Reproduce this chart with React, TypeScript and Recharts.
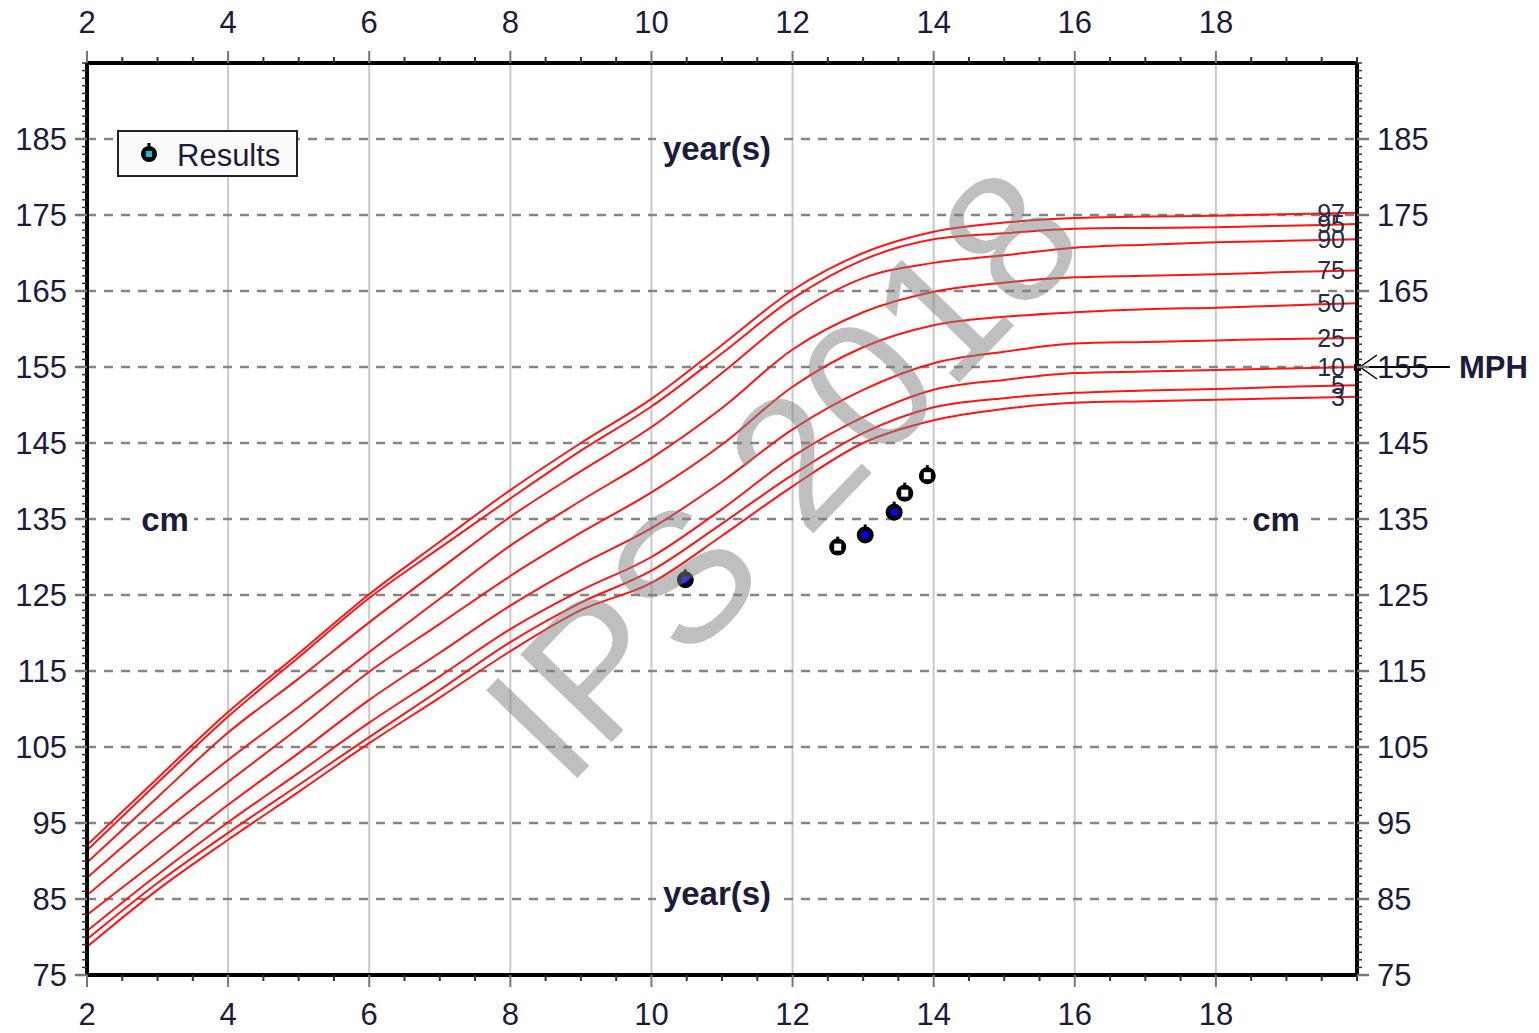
import React from "react";
import { ComposedChart, Line, Scatter, XAxis, YAxis, ReferenceLine, ReferenceDot } from "recharts";

// percentile curves, height in cm by age in years
const ages = [2, 3, 4, 5, 6, 7, 8, 9, 10, 11, 12, 13, 14, 15, 16, 17, 18, 19, 20];
const p97 = [92.1, 100.9, 109.6, 117.3, 125.1, 132.0, 138.8, 145.0, 150.8, 157.9, 165.1, 170.0, 172.8, 174.0, 174.6, 174.8, 174.9, 175.1, 175.3];
const p95 = [91.4, 100.3, 109.0, 116.8, 124.6, 131.2, 137.7, 144.0, 149.8, 156.8, 164.0, 169.1, 171.8, 172.6, 173.2, 173.3, 173.4, 173.6, 173.8];
const p90 = [89.8, 98.4, 106.9, 114.0, 121.4, 128.4, 135.3, 141.3, 147.1, 154.2, 161.7, 166.7, 168.7, 169.7, 170.7, 171.1, 171.4, 171.6, 171.8];
const p75 = [87.8, 95.8, 103.3, 110.3, 117.5, 124.5, 131.5, 137.4, 143.0, 149.6, 157.3, 162.2, 164.9, 166.1, 166.8, 167.0, 167.2, 167.5, 167.7];
const p50 = [85.5, 93.2, 100.4, 107.5, 114.9, 121.2, 127.5, 133.2, 138.5, 144.8, 152.4, 157.6, 160.5, 161.6, 162.2, 162.6, 162.8, 163.1, 163.4];
const p25 = [82.9, 90.1, 97.4, 104.2, 111.2, 117.4, 123.6, 129.0, 133.8, 139.9, 146.8, 152.0, 155.5, 157.0, 158.1, 158.3, 158.5, 158.7, 158.8];
const p10 = [80.8, 88.2, 95.1, 101.6, 108.2, 114.3, 120.5, 125.6, 130.0, 136.3, 143.2, 148.4, 152.0, 153.3, 154.2, 154.4, 154.6, 154.8, 155.0];
const p5 = [79.7, 87.1, 93.7, 100.0, 106.3, 112.5, 118.8, 124.0, 128.2, 134.4, 140.8, 146.3, 149.7, 150.9, 151.6, 151.9, 152.1, 152.4, 152.6];
const p3 = [78.7, 86.2, 92.8, 99.1, 105.5, 111.5, 117.6, 123.0, 126.6, 132.8, 139.3, 145.0, 148.0, 149.5, 150.3, 150.5, 150.7, 150.9, 151.1];

const curveNames = ["97", "95", "90", "75", "50", "25", "10", "5", "3"];
const curveValues = [p97, p95, p90, p75, p50, p25, p10, p5, p3];

// measured results
const resultAges = [10.48, 12.64, 13.03, 13.44, 13.59, 13.91];
const resultHeights = [127.0, 131.3, 132.9, 135.9, 138.4, 140.7];
const resultFilled = [true, false, true, true, false, false];

const mph = 155;

const xLabels = [2, 4, 6, 8, 10, 12, 14, 16, 18];
const yLabels = [75, 85, 95, 105, 115, 125, 135, 145, 155, 165, 175, 185];
const xGrid = [4, 6, 8, 10, 12, 14, 16, 18];
const yGrid = [85, 95, 105, 115, 125, 135, 145, 155, 165, 175, 185];

const xTicks = Array.from({ length: 37 }, (_, i) => 2 + i * 0.5);
const yTicks = Array.from({ length: 121 }, (_, i) => 75 + i);

const chartData = ages.map((age, i) => {
  const row: Record<string, number> = { age };
  curveNames.forEach((n, k) => (row["p" + n] = curveValues[k][i]));
  return row;
});
const resultData = resultAges.map((age, i) => ({ age, height: resultHeights[i], filled: resultFilled[i] }));

const FONT = '"Liberation Sans", Arial, sans-serif';
const INK = "#1d1b3c";
const RED = "#ff1414";

function XTick(props: any) {
  const { x, y, payload, side } = props;
  const v = payload.value;
  const major = xLabels.includes(v);
  const dir = side === "top" ? -1 : 1;
  return (
    <g>
      <line x1={x} x2={x} y1={y} y2={y + dir * (major ? 12 : 6)} stroke={major ? "#777" : "#333"} strokeWidth={2} />
      {major && (
        <text x={x} y={side === "top" ? y - 30 : y + 50} textAnchor="middle" fontSize={31} fill={INK} fontFamily={FONT}>
          {v}
        </text>
      )}
    </g>
  );
}

function YTick(props: any) {
  const { x, y, payload, side } = props;
  const v = payload.value;
  const major = yLabels.includes(v);
  const dir = side === "left" ? -1 : 1;
  return (
    <g>
      <line x1={x} x2={x + dir * (major ? 12 : 5)} y1={y} y2={y} stroke={major ? "#777" : "#333"} strokeWidth={major ? 2.5 : 1.5} />
      {major && (
        <text x={x + dir * 20} y={y + 11} textAnchor={side === "left" ? "end" : "start"} fontSize={31} fill={INK} fontFamily={FONT}>
          {v}
        </text>
      )}
    </g>
  );
}

function ResultMarker(props: any) {
  const { cx, cy, payload } = props;
  return (
    <g>
      <circle cx={cx} cy={cy} r={8.5} fill="#000" />
      <rect x={cx - 1.5} y={cy - 10.5} width={3} height={3} fill="#000" />
      <rect x={cx - 3.5} y={cy - 3.5} width={7} height={7} fill={payload.filled ? "#0000ff" : "#fff"} />
    </g>
  );
}

const curveLabel = (name: string) => (props: any) => (
  <text x={props.cx - 12} y={props.cy + 9} textAnchor="end" fontSize={25} fill="#2b2a44" fontFamily={FONT}>
    {name}
  </text>
);

function MphMarker(props: any) {
  const { cx, cy } = props;
  return (
    <g>
      <rect x={cx - 3} y={cy - 3} width={7} height={7} fill="#000" />
      <line x1={cx} x2={cx + 93} y1={cy} y2={cy} stroke="#000" strokeWidth={2} />
      <polyline points={`${cx + 20},${cy - 12} ${cx + 3},${cy} ${cx + 20},${cy + 12}`} fill="none" stroke="#000" strokeWidth={1.5} />
      <text x={cx + 102} y={cy + 11} fontSize={31} fontWeight="bold" fill={INK} fontFamily={FONT}>
        MPH
      </text>
    </g>
  );
}

export default function App() {
  return (
    <div style={{ position: "absolute", left: 0, top: 0, width: 1539, height: 1033, background: "#fff" }}>
      <ComposedChart width={1539} height={1033} data={chartData} margin={{ top: 23, right: 122, bottom: 18, left: 27 }}>
        {xGrid.map((v) => (
          <ReferenceLine key={"gx" + v} xAxisId="bottom" yAxisId="left" x={v} stroke="#c9c9c9" strokeWidth={2} />
        ))}
        {yGrid.map((v) => (
          <ReferenceLine key={"gy" + v} xAxisId="bottom" yAxisId="left" y={v} stroke="#858585" strokeWidth={2.5} strokeDasharray="9 8" />
        ))}
        <XAxis
          xAxisId="bottom"
          dataKey="age"
          type="number"
          domain={[2, 20]}
          ticks={xTicks}
          interval={0}
          tickSize={0}
          tickMargin={0}
          tickLine={false}
          height={40}
          axisLine={{ stroke: "#000", strokeWidth: 4 }}
          tick={(p: any) => <XTick {...p} side="bottom" />}
          allowDataOverflow
        />
        <XAxis
          xAxisId="top"
          orientation="top"
          dataKey="age"
          type="number"
          domain={[2, 20]}
          ticks={xTicks}
          interval={0}
          tickSize={0}
          tickMargin={0}
          tickLine={false}
          height={40}
          axisLine={{ stroke: "#000", strokeWidth: 4 }}
          tick={(p: any) => <XTick {...p} side="top" />}
          allowDataOverflow
        />
        <YAxis
          yAxisId="left"
          type="number"
          domain={[75, 195]}
          ticks={yTicks}
          interval={0}
          tickSize={0}
          tickMargin={0}
          tickLine={false}
          width={60}
          axisLine={{ stroke: "#000", strokeWidth: 4 }}
          tick={(p: any) => <YTick {...p} side="left" />}
          allowDataOverflow
        />
        <YAxis
          yAxisId="right"
          orientation="right"
          type="number"
          domain={[75, 195]}
          ticks={yTicks}
          interval={0}
          tickSize={0}
          tickMargin={0}
          tickLine={false}
          width={60}
          axisLine={{ stroke: "#000", strokeWidth: 4 }}
          tick={(p: any) => <YTick {...p} side="right" />}
          allowDataOverflow
        />
        {curveValues.map((vals, k) => (
          <ReferenceDot
            key={"lbl" + k}
            xAxisId="bottom"
            yAxisId="left"
            x={ages[ages.length - 1]}
            y={vals[vals.length - 1]}
            shape={curveLabel(curveNames[k])}
          />
        ))}
        {curveNames.map((n) => (
          <Line
            key={n}
            xAxisId="bottom"
            yAxisId="left"
            type="monotone"
            dataKey={"p" + n}
            stroke={RED}
            strokeWidth={2}
            dot={false}
            activeDot={false}
            isAnimationActive={false}
          />
        ))}
        <Scatter
          xAxisId="bottom"
          yAxisId="left"
          data={resultData}
          dataKey="height"
          shape={ResultMarker}
          isAnimationActive={false}
        />
        <ReferenceDot xAxisId="bottom" yAxisId="left" x={20} y={mph} shape={MphMarker} />
      </ComposedChart>
      <svg width={1539} height={1033} style={{ position: "absolute", left: 0, top: 0, pointerEvents: "none" }}>
        <g fontFamily={FONT} fontWeight="bold" fontSize={33} fill={INK}>
          <rect x={656} y={134} width={122} height={34} fill="#fff" />
          <text x={717} y={160} textAnchor="middle">year(s)</text>
          <rect x={656} y={879} width={122} height={34} fill="#fff" />
          <text x={717} y={905} textAnchor="middle">year(s)</text>
          <rect x={136} y={508} width={58} height={28} fill="#fff" />
          <text x={165} y={531} textAnchor="middle">cm</text>
          <rect x={1247} y={508} width={58} height={28} fill="#fff" />
          <text x={1276} y={531} textAnchor="middle">cm</text>
        </g>
        <rect x={118} y={131} width={179} height={45} fill="#fbfbfb" stroke="#222" strokeWidth={2} />
        <circle cx={149} cy={154} r={8} fill="#000" />
        <rect x={147.5} y={143} width={3} height={3} fill="#000" />
        <rect x={146} y={151} width={6} height={6} fill="#00c8d8" />
        <text x={177} y={166} fontSize={31} fill={INK} fontFamily={FONT}>
          Results
        </text>
        <text
          x={781}
          y={538}
          textAnchor="middle"
          fontSize={184}
          fontFamily={FONT}
          fill="#808080"
          fillOpacity={0.5}
          transform="rotate(-46 781 472)"
        >
          IPS 2018
        </text>
      </svg>
    </div>
  );
}
